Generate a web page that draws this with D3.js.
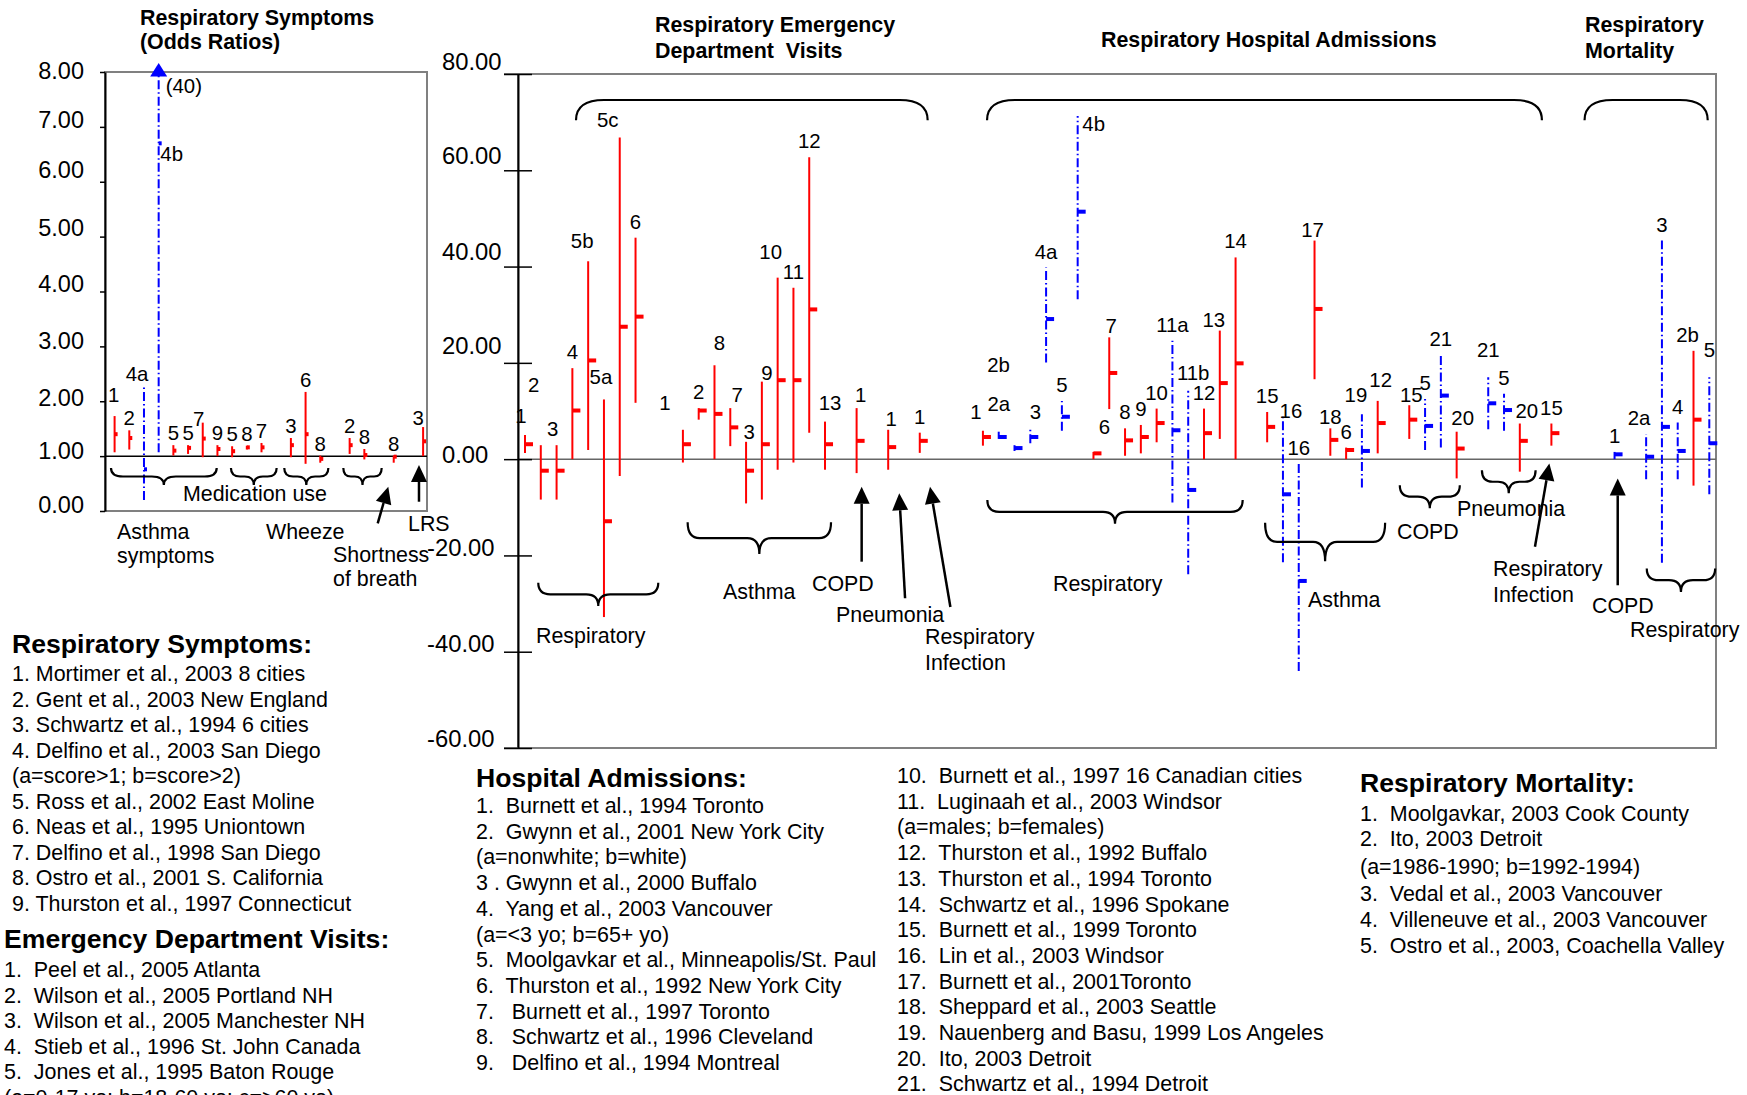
<!DOCTYPE html>
<html>
<head>
<meta charset="utf-8">
<script src="https://cdn.jsdelivr.net/npm/d3@7"></script>
<style>
body { margin: 0; background: #fff; }
svg text { font-family: "Liberation Sans", Arial, Helvetica, sans-serif; fill: #000; white-space: pre; }
</style>
</head>
<body>
<script>
// ---------------- data ----------------
// respiratory symptoms (odds ratios); "" = empty slot between outcome groups
// group 1 = red solid, group 2 = blue dash-dot
var symLabels = ["1","2","4a","4b","5","5","7","9","5","8","7","","3","6","8","","2","8","","8","","3"];
var symGroup  = [1,1,2,2,1,1,1,1,1,1,1,0,1,1,1,0,1,1,0,1,0,1];
var symLow    = [1.07,1.12,0.2,1.07,1.01,1.04,0.98,1.0,0.98,1.12,1.07,null,0.98,0.86,0.88,null,1.04,0.94,null,0.88,null,1.0];
var symEst    = [1.40,1.33,0.76,6.7,1.10,1.15,1.32,1.13,1.09,1.16,1.16,null,1.2,1.4,0.95,null,1.2,1.02,null,0.99,null,1.27];
var symHigh   = [1.73,1.47,2.3,40,1.2,1.2,1.61,1.2,1.18,1.19,1.24,null,1.33,2.17,1.01,null,1.33,1.13,null,1.01,null,1.53];
var symTicks  = [0,1,2,3,4,5,6,7,8];

// emergency department visits (% increase)
var edLabels = ["1","2","3","4","5b","5a","5c","6","","","1","2","8","7","3","9","10","11","12","13","","1","","1","","1"];
var edGroup  = [1,1,1,1,1,1,1,1,0,0,1,1,1,1,1,1,1,1,1,1,0,1,0,1,0,1];
var edLow    = [1.3,-8.4,-8.4,0,1.9,-32.8,-3.5,11.7,null,null,-0.7,8.2,0,2.7,-9.2,-8.4,-2.2,-0.7,5.5,-2.2,null,-2.9,null,-2.2,null,1.3];
var edEst    = [3.1,-2.4,-2.4,10.1,20.5,-12.9,27.5,29.6,null,null,3.1,10.1,9.4,6.6,-2.4,3.1,16.4,16.4,31.1,3.1,null,3.8,null,2.5,null,3.8];
var edHigh   = [5.0,2.9,2.9,18.9,41.1,12.4,66.8,46.0,null,null,6.1,10.6,19.5,10.6,3.6,16.1,37.7,35.6,62.7,7.8,null,10.6,null,6.1,null,5.5];

// hospital admissions
var haLabels = ["1","2a","2b","3","4a","5","4b","6","7","8","9","10","11a","11b","12","13","14","","15","16","16","17","18","6","19","12","","15","5","21","20","","21","5","20","","15"];
var haGroup  = [1,2,2,2,2,2,2,1,1,1,1,1,2,2,1,1,1,0,1,2,2,1,1,1,2,1,0,1,2,2,1,0,2,2,1,0,1];
var haLow    = [2.8,4.2,1.7,3.3,20.1,5.9,33.2,0,10.4,0.7,1.2,3.5,-9.0,-23.9,0,4.2,0,null,3.5,-21.4,-44.0,16.6,0.7,0,-5.9,1.2,null,4.2,1.9,2.4,-4.0,null,6.2,5.9,-2.6,null,2.8];
var haEst    = [4.6,4.6,2.3,4.6,29.1,8.8,51.4,1.2,17.9,3.9,4.6,7.5,6.0,-6.4,5.4,15.8,19.9,null,6.7,-7.3,-25.3,31.2,4.0,1.9,1.7,7.5,null,8.2,6.9,13.2,2.2,null,11.6,10.2,3.8,null,5.4];
var haHigh   = [5.9,5.7,2.9,6.4,39.8,12.1,71.3,1.5,25.3,6.4,7.1,10.5,24.6,14.2,10.5,26.7,41.9,null,9.8,9.3,-1.0,45.4,6.4,2.4,9.3,12.1,null,11.2,12.5,21.6,5.7,null,17.0,13.6,7.4,null,7.4];

// respiratory mortality
var moLabels = ["1","","2a","3","4","2b","5"];
var moGroup  = [2,0,2,2,2,1,2];
var moLow    = [0,null,-4.2,-21.5,-4.2,-5.5,-7.3];
var moEst    = [1.0,null,0.5,6.7,1.7,8.2,3.3];
var moHigh   = [1.5,null,5.2,45.4,7.6,22.5,17.0];

var pctTicks = [-60,-40,-20,0,20,40,60,80];

// legend text
var legSym = ["1. Mortimer et al., 2003 8 cities","2. Gent et al., 2003 New England","3. Schwartz et al., 1994 6 cities",
  "4. Delfino et al., 2003 San Diego","(a=score>1; b=score>2)","5. Ross et al., 2002 East Moline","6. Neas et al., 1995 Uniontown",
  "7. Delfino et al., 1998 San Diego","8. Ostro et al., 2001 S. California","9. Thurston et al., 1997 Connecticut"];
var legED = ["1.  Peel et al., 2005 Atlanta","2.  Wilson et al., 2005 Portland NH","3.  Wilson et al., 2005 Manchester NH",
  "4.  Stieb et al., 1996 St. John Canada","5.  Jones et al., 1995 Baton Rouge","(a=0-17 yo; b=18-60 yo; c=>60 yo)"];
var legHA1 = ["1.  Burnett et al., 1994 Toronto","2.  Gwynn et al., 2001 New York City","(a=nonwhite; b=white)",
  "3 . Gwynn et al., 2000 Buffalo","4.  Yang et al., 2003 Vancouver","(a=<3 yo; b=65+ yo)",
  "5.  Moolgavkar et al., Minneapolis/St. Paul","6.  Thurston et al., 1992 New York City","7.   Burnett et al., 1997 Toronto",
  "8.   Schwartz et al., 1996 Cleveland","9.   Delfino et al., 1994 Montreal"];
var legHA2 = ["10.  Burnett et al., 1997 16 Canadian cities","11.  Luginaah et al., 2003 Windsor","(a=males; b=females)",
  "12.  Thurston et al., 1992 Buffalo","13.  Thurston et al., 1994 Toronto","14.  Schwartz et al., 1996 Spokane",
  "15.  Burnett et al., 1999 Toronto","16.  Lin et al., 2003 Windsor","17.  Burnett et al., 2001Toronto",
  "18.  Sheppard et al., 2003 Seattle","19.  Nauenberg and Basu, 1999 Los Angeles","20.  Ito, 2003 Detroit",
  "21.  Schwartz et al., 1994 Detroit"];
var legMort = ["1.  Moolgavkar, 2003 Cook County","2.  Ito, 2003 Detroit","(a=1986-1990; b=1992-1994)",
  "3.  Vedal et al., 2003 Vancouver","4.  Villeneuve et al., 2003 Vancouver","5.  Ostro et al., 2003, Coachella Valley"];

// ---------------- setup ----------------
var RED = "#ff0000", BLUE = "#0000ff", GREY = "#808080";
var DASH = "9,3,1.5,3";
var LAB = 21.4;   // annotation text size

var svg = d3.select("body").append("svg")
  .attr("width", 1747)
  .attr("height", 1095);

// join the right-hand sections into one run of slots, 3 empty slots between sections
var gap = ["", "", ""];
var rLabels = edLabels.concat(gap, haLabels, gap, moLabels);
var rGroup  = edGroup.concat([0,0,0], haGroup, [0,0,0], moGroup);
var rLow    = edLow.concat([null,null,null], haLow, [null,null,null], moLow);
var rEst    = edEst.concat([null,null,null], haEst, [null,null,null], moEst);
var rHigh   = edHigh.concat([null,null,null], haHigh, [null,null,null], moHigh);

// scales
var symX = d3.scaleLinear().domain([0, symLabels.length - 1]).range([114.6, 423.1]);
var symY = d3.scaleLinear().domain([0, 8]).range([511, 72]);
var rX = d3.scaleLinear().domain([0, rLabels.length - 1]).range([525, 1709.3]);
var rY = d3.scaleLinear().domain([-60, 80]).range([748, 74]);

function txt(x, y, s, size, weight, anchor) {
  return svg.append("text")
    .attr("x", x).attr("y", y)
    .attr("font-size", size)
    .attr("font-weight", weight || "normal")
    .attr("text-anchor", anchor || "start")
    .text(s);
}

// "︸" style brace, ends at yTop and point at yTip
function braceDown(x0, x1, yTop, yTip) {
  var ym = (yTop + yTip) / 2, xm = (x0 + x1) / 2, r = Math.min(12, (x1 - x0) / 5);
  var p = d3.path();
  p.moveTo(x0, yTop);
  p.quadraticCurveTo(x0, ym, x0 + r, ym);
  p.lineTo(xm - r, ym);
  p.quadraticCurveTo(xm, ym, xm, yTip);
  p.quadraticCurveTo(xm, ym, xm + r, ym);
  p.lineTo(x1 - r, ym);
  p.quadraticCurveTo(x1, ym, x1, yTop);
  svg.append("path").attr("d", p.toString())
    .attr("fill", "none").attr("stroke", "#000").attr("stroke-width", 2.2);
}

// rounded top bracket over a section
function braceTop(x0, x1, yTop, yEnd) {
  var r = 28;
  var p = d3.path();
  p.moveTo(x0, yEnd);
  p.quadraticCurveTo(x0, yTop, x0 + r, yTop);
  p.lineTo(x1 - r, yTop);
  p.quadraticCurveTo(x1, yTop, x1, yEnd);
  svg.append("path").attr("d", p.toString())
    .attr("fill", "none").attr("stroke", "#000").attr("stroke-width", 2.2);
}

function arrow(tx, ty, sx, sy) {
  var a = Math.atan2(ty - sy, tx - sx), len = 17, hw = 8;
  var bx = tx - len * Math.cos(a), by = ty - len * Math.sin(a);
  svg.append("line").attr("x1", sx).attr("y1", sy).attr("x2", bx).attr("y2", by)
    .attr("stroke", "#000").attr("stroke-width", 2.5);
  var pts = [[tx, ty],
    [bx + hw * Math.sin(a), by - hw * Math.cos(a)],
    [bx - hw * Math.sin(a), by + hw * Math.cos(a)]];
  svg.append("polygon").attr("points", pts.map(function(q) { return q.join(","); }).join(" "))
    .attr("fill", "#000");
}

// draws the interval bars, estimate marks and study labels of one panel
function drawBars(labels, group, low, est, high, x, y, o) {
  var rows = [];
  labels.forEach(function(lab, i) {
    if (lab !== "") rows.push({i: i, lab: lab, g: group[i], lo: low[i], est: est[i], hi: high[i]});
  });
  var top = y.domain()[1];
  var g = svg.append("g");

  g.selectAll("line.bar").data(rows).join("line")
    .attr("class", "bar")
    .attr("x1", function(d) { return x(d.i); })
    .attr("x2", function(d) { return x(d.i); })
    .attr("y1", function(d) { return y(d.lo); })
    .attr("y2", function(d) { return y(Math.min(d.hi, top)); })
    .attr("stroke", function(d) { return d.g === 2 ? BLUE : RED; })
    .attr("stroke-width", 2)
    .attr("stroke-dasharray", function(d) { return d.g === 2 ? DASH : null; });

  g.selectAll("rect.mark").data(rows).join("rect")
    .attr("class", "mark")
    .attr("x", function(d) { return x(d.i); })
    .attr("y", function(d) { return y(d.est) - o.markH / 2; })
    .attr("width", o.markW)
    .attr("height", o.markH)
    .attr("fill", function(d) { return d.g === 2 ? BLUE : RED; });

  g.selectAll("text.lab").data(rows).join("text")
    .attr("class", "lab")
    .attr("font-size", 20.4)
    .attr("text-anchor", "middle")
    .attr("x", function(d) { return x(d.i) + (o.shift[d.i] ? o.shift[d.i][0] : 0); })
    .attr("y", function(d) { return y(Math.min(d.hi, top)) - o.gap + (o.shift[d.i] ? o.shift[d.i][1] : 0); })
    .text(function(d) { return d.lab; });

  // intervals running off the top of the scale: arrow head plus the real upper value
  rows.filter(function(d) { return d.hi > top; }).forEach(function(d) {
    var cx = x(d.i), cy = y(top);
    g.append("polygon")
      .attr("points", [[cx, cy - 9], [cx - 8.5, cy + 4.5], [cx + 8.5, cy + 4.5]].join(" "))
      .attr("fill", d.g === 2 ? BLUE : RED);
    g.append("text").attr("x", cx + 7).attr("y", cy + 21).attr("font-size", 20.4)
      .text("(" + d.hi + ")");
  });
}

var fmt = function(d) { return d.toFixed(2); };

// ---------------- left panel ----------------
svg.append("rect")
  .attr("x", 105).attr("y", symY(8))
  .attr("width", 322).attr("height", symY(0) - symY(8))
  .attr("fill", "none").attr("stroke", GREY).attr("stroke-width", 2);

// the tick labels sit a little unevenly in the original
var symTickShift = {8: -1, 7: -7, 6: -12, 5: -9, 4: -8, 3: -5, 2: -3, 1: -5, 0: -6};
var symAxis = svg.append("g")
  .attr("transform", "translate(105,0)")
  .call(d3.axisLeft(symY).tickValues(symTicks).tickFormat(fmt).tickSize(5).tickSizeOuter(0).tickPadding(16));
symAxis.attr("font-size", 23.5).attr("font-family", null);
symAxis.select(".domain").attr("stroke", "#000").attr("stroke-width", 2);
symAxis.selectAll(".tick line").attr("stroke", "#000").attr("stroke-width", 1.5);
symAxis.selectAll(".tick text").attr("y", function(d) { return symTickShift[d]; });

svg.append("line")
  .attr("x1", 105).attr("x2", 427)
  .attr("y1", symY(1)).attr("y2", symY(1))
  .attr("stroke", "#000").attr("stroke-width", 1.5);

drawBars(symLabels, symGroup, symLow, symEst, symHigh, symX, symY,
  {markW: 3, markH: 4, gap: 5,
   shift: {0: [-1, -9], 2: [-7, 1], 3: [13, 94], 6: [-4, 8], 21: [-5, 3]}});

// group brackets and arrows under the odds ratio line
[[-0.245, 6.95], [7.92, 11.03], [11.55, 14.55], [15.57, 18.18]].forEach(function(b) {
  braceDown(symX(b[0]), symX(b[1]), symY(0.784), symY(0.474));
});
arrow(symX(18.63), symY(0.443), symX(17.91), symY(-0.224));
arrow(symX(20.72), symY(0.838), symX(20.72), symY(0.169));

txt(140, 25, "Respiratory Symptoms", 21.4, "bold");
txt(140, 49, "(Odds Ratios)", 21.4, "bold");
txt(183, 501, "Medication use", LAB);
txt(117, 539, "Asthma", LAB);
txt(117, 563, "symptoms", LAB);
txt(266, 539, "Wheeze", LAB);
txt(333, 562, "Shortness", LAB);
txt(333, 586, "of breath", LAB);
txt(408, 531, "LRS", LAB);

// ---------------- right panel ----------------
svg.append("rect")
  .attr("x", 518).attr("y", rY(80))
  .attr("width", 1716 - 518).attr("height", rY(-60) - rY(80))
  .attr("fill", "none").attr("stroke", GREY).attr("stroke-width", 2);
svg.append("line").attr("x1", 504).attr("x2", 518).attr("y1", rY(80)).attr("y2", rY(80))
  .attr("stroke", GREY).attr("stroke-width", 2);
svg.append("line").attr("x1", 504).attr("x2", 518).attr("y1", rY(-60)).attr("y2", rY(-60))
  .attr("stroke", GREY).attr("stroke-width", 2);

svg.append("line")
  .attr("x1", 518).attr("x2", 1716)
  .attr("y1", rY(0)).attr("y2", rY(0))
  .attr("stroke", "#666").attr("stroke-width", 1.5);

var rTickShift = {80: -12, 60: -14, 40: -15, 20: -17, 0: -4, "-20": -8, "-40": -8, "-60": -9};
var rAxis = svg.append("g")
  .attr("transform", "translate(518,0)")
  .call(d3.axisLeft(rY).tickValues(pctTicks).tickFormat(fmt).tickSize(14).tickSizeOuter(0));
rAxis.attr("font-size", 23.8).attr("font-family", null);
rAxis.select(".domain").attr("stroke", "#000").attr("stroke-width", 2);
rAxis.selectAll(".tick line").attr("stroke", "#000").attr("stroke-width", 1.5);
rAxis.selectAll(".tick text")
  .attr("text-anchor", "start")
  .attr("x", function(d) { return d < 0 ? 427 - 518 : 442 - 518; })
  .attr("y", function(d) { return rTickShift[d]; });
var rAxisIn = svg.append("g")
  .attr("transform", "translate(518,0)")
  .call(d3.axisRight(rY).tickValues(pctTicks).tickFormat("").tickSize(14).tickSizeOuter(0));
rAxisIn.select(".domain").remove();
rAxisIn.selectAll(".tick line").attr("stroke", "#000").attr("stroke-width", 1.5);

drawBars(rLabels, rGroup, rLow, rEst, rHigh, rX, rY,
  {markW: 8, markH: 4, gap: 9,
   shift: {0: [-4, -3], 1: [-7, -44], 2: [-4, 0], 4: [-6, -4], 5: [-3, -6], 6: [-12, -2],
     10: [-18, -11], 12: [5, -6], 13: [7, 3], 14: [3, 6], 15: [5, 7], 16: [-7, -10], 19: [5, -3],
     21: [4, 3], 23: [3, 5], 29: [-7, -3], 30: [0, -12], 31: [-16, -64], 32: [5, 0], 35: [16, 24],
     36: [11, -9], 37: [2, 5], 42: [5, -2], 44: [-6, 5], 48: [8, 13], 50: [-2, 5], 51: [0, 5],
     53: [-6, -3], 54: [3, -5], 56: [2, 6], 59: [6, 2], 61: [0, -11], 63: [7, 3], 71: [-7, 0],
     74: [-6, 0], 75: [0, -11]}});

// section brackets above the bars
[[3.23, 25.5], [29.26, 64.4], [67.1, 74.9]].forEach(function(b) {
  braceTop(rX(b[0]), rX(b[1]), rY(74.6), rY(70.4));
});
// outcome brackets below the bars
[[0.84, 8.44, -25.7, -30.5], [10.3, 19.38, -13.1, -19.7], [29.28, 45.45, -8.5, -13.4],
 [46.87, 54.47, -13.2, -21.2], [55.4, 59.2, -5.4, -10.2], [60.6, 64.0, -2.3, -7.1],
 [71.04, 75.37, -22.7, -27.6]].forEach(function(b) {
  braceDown(rX(b[0]), rX(b[1]), rY(b[2]), rY(b[3]));
});
[[21.32, -5.73, 21.32, -21.3], [23.7, -7.1, 24.07, -28.9], [25.65, -5.73, 26.94, -30.7],
 [64.87, -0.9, 63.96, -18.2], [69.2, -4.0, 69.2, -26.2]].forEach(function(a) {
  arrow(rX(a[0]), rY(a[1]), rX(a[2]), rY(a[3]));
});

txt(655, 32, "Respiratory Emergency", 21.4, "bold");
txt(655, 58, "Department  Visits", 21.4, "bold");
txt(1101, 47, "Respiratory Hospital Admissions", 21.4, "bold");
txt(1585, 32, "Respiratory", 21.4, "bold");
txt(1585, 58, "Mortality", 21.4, "bold");

txt(536, 643, "Respiratory", LAB);
txt(723, 599, "Asthma", LAB);
txt(812, 591, "COPD", LAB);
txt(836, 622, "Pneumonia", LAB);
txt(925, 644, "Respiratory", LAB);
txt(925, 670, "Infection", LAB);
txt(1053, 591, "Respiratory", LAB);
txt(1308, 607, "Asthma", LAB);
txt(1397, 539, "COPD", LAB);
txt(1457, 516, "Pneumonia", LAB);
txt(1493, 576, "Respiratory", LAB);
txt(1493, 602, "Infection", LAB);
txt(1592, 613, "COPD", LAB);
txt(1630, 637, "Respiratory", LAB);

// ---------------- legends ----------------
function block(lines, x, ys) {
  svg.append("g").selectAll("text").data(lines).join("text")
    .attr("x", x)
    .attr("y", function(d, i) { return ys(i); })
    .attr("font-size", 21.45)
    .text(function(d) { return d; });
}

txt(12, 653, "Respiratory Symptoms:", 26.6, "bold");
block(legSym, 12, function(i) { return 681 + i * 25.55; });
txt(4, 948, "Emergency Department Visits:", 26.6, "bold");
block(legED, 4, function(i) { return 977 + i * 25.6; });
txt(476, 787, "Hospital Admissions:", 26.6, "bold");
block(legHA1, 476, function(i) { return 813 + i * 25.7; });
block(legHA2, 897, function(i) { return 783 + i * 25.7; });
txt(1360, 792, "Respiratory Mortality:", 26.6, "bold");
var mortRows = [821, 846, 874, 901, 927, 953];
block(legMort, 1360, function(i) { return mortRows[i]; });
</script>
</body>
</html>
